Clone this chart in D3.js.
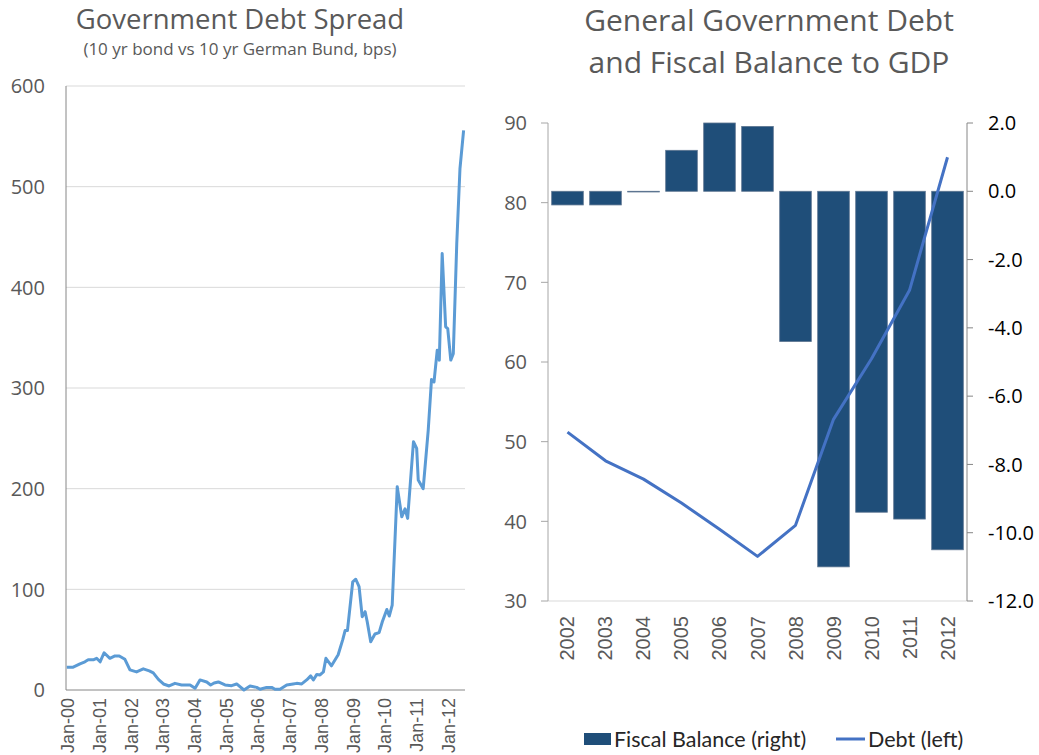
<!DOCTYPE html>
<html>
<head>
<meta charset="utf-8">
<script src="https://cdn.jsdelivr.net/npm/d3@7"></script>
<style>
  body { margin: 0; background: #fff; }
  svg { display: block; }
</style>
</head>
<body>
<script>
// left chart: spread vs bund (bps)
var spreadDates = ["2000-01-10","2000-03-24","2000-06-10","2000-08-06","2000-09-13","2000-11-10","2000-12-19",
  "2001-01-28","2001-03-15","2001-05-21","2001-07-18","2001-09-06","2001-11-10",
  "2002-01-07","2002-03-24","2002-06-10","2002-08-18","2002-10-03","2002-12-01",
  "2003-01-28","2003-04-04","2003-06-10","2003-08-25","2003-12-01",
  "2004-01-28","2004-03-24","2004-06-10","2004-07-25","2004-09-03","2004-10-22",
  "2005-01-07","2005-03-24","2005-05-21","2005-08-13","2005-10-22",
  "2006-01-07","2006-02-15","2006-05-01","2006-06-28","2006-08-06","2006-10-03","2006-12-19",
  "2007-03-03","2007-04-13","2007-06-10","2007-08-06","2007-09-21","2007-10-22","2007-12-01",
  "2008-01-07","2008-02-15","2008-03-15","2008-05-18","2008-08-03","2008-09-25","2008-10-22","2008-11-18",
  "2009-01-18","2009-02-22","2009-04-01","2009-05-07","2009-06-10","2009-07-04","2009-08-13","2009-10-01","2009-11-18","2009-12-25",
  "2010-02-15","2010-03-15","2010-04-18","2010-06-15","2010-08-06","2010-09-13","2010-10-13","2010-12-19",
  "2011-01-25","2011-02-12","2011-04-10","2011-06-07","2011-07-15","2011-08-13","2011-09-19","2011-10-13","2011-11-15","2011-12-25",
  "2012-01-18","2012-02-22","2012-03-22","2012-05-01","2012-06-07","2012-07-19"];
var spreadValues = [22.5,22.7,26,28,30,30,31.5,
  28,37,31.5,33.8,33.8,30.5,
  20,18,21,19,17,10.6,
  6,4,6.6,5,5,
  1.7,10,8,5,7,8,
  5,4.3,6,0,4,
  2.6,0.7,2.6,2.6,0.7,0.7,5,
  6,6.6,6,10,14,10,15.5,
  15,18,31.5,24,35,50,59,59,
  107.5,110,102.6,72.8,77.8,67.8,48,55.6,57,67.8,
  80,73.5,84.4,202,172,180,170.5,246.6,
  240,208.5,200,258,308.5,306,337.6,327.7,433.6,360.8,
  359,327.7,334,443.5,518,556];
var spreadTicks = [0, 100, 200, 300, 400, 500, 600];

// right chart
var years = ["2002","2003","2004","2005","2006","2007","2008","2009","2010","2011","2012"];
var fiscalBalance = [-0.4, -0.4, -0.02, 1.2, 2.0, 1.9, -4.4, -11.0, -9.4, -9.6, -10.5];
var debt = [51.2, 47.6, 45.3, 42.3, 39.0, 35.6, 39.5, 52.8, 60.4, 69.0, 85.7];
var debtTicks = [30, 40, 50, 60, 70, 80, 90];
var balanceTicks = [-12, -10, -8, -6, -4, -2, 0, 2];

var width = 1039;
var height = 755;
var grey = "#595959";
var fnt = "'Open Sans', sans-serif";

var svg = d3.select("body").append("svg")
    .attr("width", width)
    .attr("height", height);

var parse = d3.timeParse("%Y-%m-%d");

// ---------- left chart ----------
var x1 = d3.scaleTime()
    .domain([new Date(2000, 0, 1), new Date(2012, 7, 4)])
    .range([66, 465]);
var y1 = d3.scaleLinear().domain([0, 600]).range([690, 86]);

svg.append("g").selectAll("line")
    .data(spreadTicks.slice(1))
    .enter().append("line")
      .attr("x1", 66).attr("x2", 465)
      .attr("y1", function(d) { return y1(d); })
      .attr("y2", function(d) { return y1(d); })
      .attr("stroke", "#d9d9d9").attr("stroke-width", 1);

svg.append("g").selectAll("text")
    .data(spreadTicks)
    .enter().append("text")
      .attr("x", 45)
      .attr("y", function(d) { return y1(d); })
      .attr("dy", "0.36em")
      .attr("text-anchor", "end")
      .style("font-family", fnt).style("font-size", "20px")
      .attr("fill", grey)
      .text(function(d) { return d; });

svg.append("line").attr("x1", 66).attr("x2", 66).attr("y1", 86).attr("y2", 690)
    .attr("stroke", "#868686").attr("stroke-width", 1);
svg.append("line").attr("x1", 66).attr("x2", 465).attr("y1", 690).attr("y2", 690)
    .attr("stroke", "#868686").attr("stroke-width", 1);

var janTicks = d3.range(2000, 2013).map(function(y) { return new Date(y, 0, 1); });
svg.append("g").selectAll("text")
    .data(janTicks)
    .enter().append("text")
      .attr("transform", function(d) { return "translate(" + (x1(d) + 2) + ",698) rotate(-90)"; })
      .attr("dy", "0.35em")
      .attr("text-anchor", "end")
      .style("font-family", "'Liberation Sans', Arial, sans-serif").style("font-size", "18px")
      .attr("fill", grey)
      .text(d3.timeFormat("Jan-%y"));

var spreadLine = d3.line()
    .x(function(d, i) { return x1(parse(spreadDates[i])); })
    .y(function(d) { return y1(d); });

svg.append("path")
    .datum(spreadValues)
    .attr("d", spreadLine)
    .attr("fill", "none")
    .attr("stroke", "#5b9bd5")
    .attr("stroke-width", 3)
    .attr("stroke-linejoin", "round");

svg.append("text")
    .attr("x", 240).attr("y", 29)
    .attr("text-anchor", "middle")
    .style("font-family", fnt).style("font-size", "27.5px")
    .attr("fill", grey)
    .text("Government Debt Spread");
svg.append("text")
    .attr("x", 240).attr("y", 55)
    .attr("text-anchor", "middle")
    .style("font-family", fnt).style("font-size", "17px")
    .attr("fill", grey)
    .text("(10 yr bond vs 10 yr German Bund, bps)");

// ---------- right chart ----------
var x2 = d3.scaleBand().domain(years).range([548, 967])
    .paddingInner(0.168).paddingOuter(0.097);
var yL = d3.scaleLinear().domain([30, 90]).range([601, 123]);
var yR = d3.scaleLinear().domain([-12, 2]).range([601, 123]);

svg.append("g").selectAll("rect")
    .data(fiscalBalance)
    .enter().append("rect")
      .attr("x", function(d, i) { return x2(years[i]); })
      .attr("width", x2.bandwidth())
      .attr("y", function(d) { return yR(Math.max(0, d)); })
      .attr("height", function(d) { return Math.abs(yR(d) - yR(0)); })
      .attr("fill", "#1f4e79")
      .attr("stroke", "#5d7591")
      .attr("stroke-width", 0.8);

// axes
svg.append("line").attr("x1", 548).attr("x2", 967).attr("y1", 601).attr("y2", 601)
    .attr("stroke", "#d9d9d9");
svg.append("line").attr("x1", 548).attr("x2", 548).attr("y1", 123).attr("y2", 601)
    .attr("stroke", "#a6a6a6");
svg.append("line").attr("x1", 967).attr("x2", 967).attr("y1", 123).attr("y2", 601)
    .attr("stroke", "#868686");

svg.append("g").selectAll("line")
    .data(debtTicks)
    .enter().append("line")
      .attr("x1", 541).attr("x2", 548)
      .attr("y1", function(d) { return yL(d); }).attr("y2", function(d) { return yL(d); })
      .attr("stroke", "#a6a6a6");
svg.append("g").selectAll("text")
    .data(debtTicks)
    .enter().append("text")
      .attr("x", 527)
      .attr("y", function(d) { return yL(d); })
      .attr("dy", "0.36em")
      .attr("text-anchor", "end")
      .style("font-family", fnt).style("font-size", "20px")
      .attr("fill", grey)
      .text(function(d) { return d; });

svg.append("g").selectAll("line")
    .data(balanceTicks)
    .enter().append("line")
      .attr("x1", 967).attr("x2", 973)
      .attr("y1", function(d) { return yR(d); }).attr("y2", function(d) { return yR(d); })
      .attr("stroke", "#868686");
svg.append("g").selectAll("text")
    .data(balanceTicks)
    .enter().append("text")
      .attr("x", 988)
      .attr("y", function(d) { return yR(d); })
      .attr("dy", "0.36em")
      .style("font-family", fnt).style("font-size", "20px")
      .attr("fill", "#000")
      .text(function(d) { return d.toFixed(1); });

svg.append("g").selectAll("text")
    .data(years)
    .enter().append("text")
      .attr("transform", function(d) { return "translate(" + (x2(d) + x2.bandwidth() / 2) + ",616) rotate(-90)"; })
      .attr("dy", "0.35em")
      .attr("text-anchor", "end")
      .style("font-family", "'Liberation Sans', Arial, sans-serif").style("font-size", "20px")
      .attr("fill", grey)
      .text(function(d) { return d; });

var debtLine = d3.line()
    .x(function(d, i) { return x2(years[i]) + x2.bandwidth() / 2; })
    .y(function(d) { return yL(d); });

svg.append("path")
    .datum(debt)
    .attr("d", debtLine)
    .attr("fill", "none")
    .attr("stroke", "#4472c4")
    .attr("stroke-width", 3)
    .attr("stroke-linejoin", "round");

svg.append("text")
    .attr("x", 769).attr("y", 31)
    .attr("text-anchor", "middle")
    .style("font-family", fnt).style("font-size", "30px")
    .attr("fill", grey)
    .text("General Government Debt");
svg.append("text")
    .attr("x", 769).attr("y", 73)
    .attr("text-anchor", "middle")
    .style("font-family", fnt).style("font-size", "30px")
    .attr("fill", grey)
    .text("and Fiscal Balance to GDP");

// legend
svg.append("rect")
    .attr("x", 584).attr("y", 733).attr("width", 27).attr("height", 12)
    .attr("fill", "#1f4e79");
svg.append("text")
    .attr("x", 614).attr("y", 747)
    .style("font-family", "Lato, sans-serif").style("font-size", "21.5px")
    .attr("fill", "#262626")
    .text("Fiscal Balance (right)");
svg.append("line")
    .attr("x1", 836).attr("x2", 865).attr("y1", 739).attr("y2", 739)
    .attr("stroke", "#4472c4").attr("stroke-width", 3);
svg.append("text")
    .attr("x", 868).attr("y", 747)
    .style("font-family", "Lato, sans-serif").style("font-size", "21.5px")
    .attr("fill", "#262626")
    .text("Debt (left)");
</script>
</body>
</html>
